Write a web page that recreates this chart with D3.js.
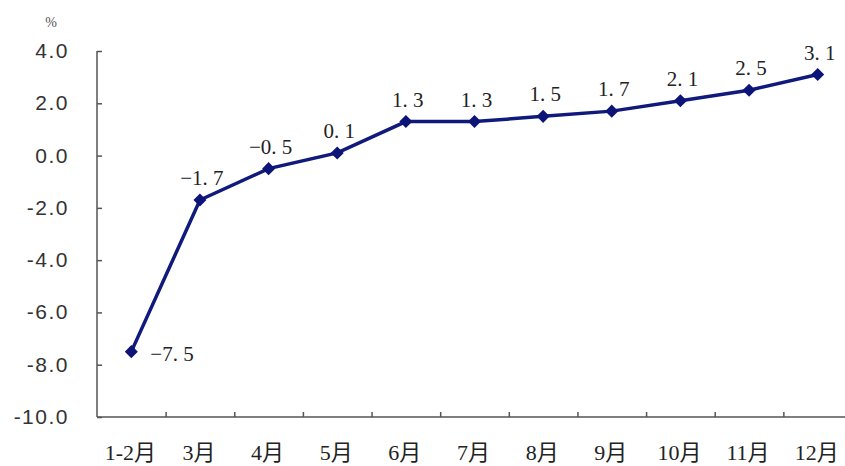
<!DOCTYPE html>
<html>
<head>
<meta charset="utf-8">
<script src="https://cdn.jsdelivr.net/npm/d3@7"></script>
<style>
    body { margin: 0; background: #fff; }
    svg { display: block; }
    .ylab { font-family: "Liberation Sans", Arial, sans-serif; font-size: 21px; letter-spacing: 1.5px; fill: #333; }
    .xlab { font-family: "Liberation Serif", "Noto Sans CJK SC", serif; font-size: 22px; fill: #222; }
    .dlab { font-family: "Liberation Serif", serif; font-size: 21px; fill: #222; }
</style>
</head>
<body>
<svg id="chart" width="845" height="466" viewBox="0 0 845 466"></svg>
<script>
const months = ["1-2月", "3月", "4月", "5月", "6月", "7月", "8月", "9月", "10月", "11月", "12月"];
const growth = [-7.5, -1.7, -0.5, 0.1, 1.3, 1.3, 1.5, 1.7, 2.1, 2.5, 3.1];
const y_ticks = [4, 2, 0, -2, -4, -6, -8, -10];

const svg = d3.select('#chart');
const plot_left = 97, plot_right = 852, plot_top = 51, plot_bottom = 417;

const x_scale = d3.scaleBand()
    .domain(months)
    .range([plot_left, plot_right]);

const y_scale = d3.scaleLinear()
    .domain([-10, 4])
    .range([plot_bottom, plot_top]);

// y axis
const y_axis = d3.axisRight(y_scale)
    .tickValues(y_ticks)
    .tickSize(5)
    .tickFormat("");
const gy = svg.append("g")
    .attr("transform", "translate(" + plot_left + ",0)")
    .call(y_axis);
gy.select(".domain").attr("stroke", "#555").attr("stroke-width", 1.5).attr("d", "M0," + plot_top + "V" + plot_bottom);
gy.selectAll(".tick line").attr("stroke", "#555").attr("stroke-width", 1.5);

svg.append("g")
    .selectAll("text")
    .data(y_ticks)
    .enter().append("text")
    .classed("ylab", true)
    .attr("x", 69)
    .attr("y", d => y_scale(d) + 7)
    .attr("text-anchor", "end")
    .text(d => d.toFixed(1));

svg.append("text")
    .attr("x", 51)
    .attr("y", 27)
    .attr("text-anchor", "middle")
    .style("font-family", "Liberation Serif, serif")
    .style("font-size", "14px")
    .style("fill", "#555")
    .text("%");

// x axis, ticks between categories pointing up
const x_axis = d3.axisTop(d3.scaleLinear().domain([0, months.length]).range([plot_left, plot_right]))
    .tickValues(d3.range(1, months.length))
    .tickSize(5)
    .tickFormat("");
const gx = svg.append("g")
    .attr("transform", "translate(0," + plot_bottom + ")")
    .call(x_axis);
gx.select(".domain").attr("stroke", "#555").attr("stroke-width", 1.5).attr("d", "M" + plot_left + ",0H" + plot_right);
gx.selectAll(".tick line").attr("stroke", "#555").attr("stroke-width", 1.5);

svg.append("g")
    .selectAll("text")
    .data(months)
    .enter().append("text")
    .classed("xlab", true)
    .attr("x", d => x_scale(d) + x_scale.bandwidth() / 2 - 1)
    .attr("y", 460)
    .attr("text-anchor", "middle")
    .text(d => d);

// line
const cx = (d, i) => x_scale(months[i]) + x_scale.bandwidth() / 2;
const line = d3.line()
    .x(cx)
    .y(d => y_scale(d));
svg.append("path")
    .datum(growth)
    .attr("fill", "none")
    .attr("stroke", "#101a7c")
    .attr("stroke-width", 3.5)
    .attr("d", line);

// diamond markers: rotated squares
svg.append("g")
    .selectAll("path")
    .data(growth)
    .enter().append("path")
    .attr("d", d3.symbol(d3.symbolSquare, 85))
    .attr("transform", (d, i) => "translate(" + cx(d, i) + "," + y_scale(d) + ") rotate(45)")
    .attr("fill", "#0c1478");

// data labels
const fmt = d => d.toFixed(1).replace("-", "\u2212").replace(".", ". ");
svg.append("g")
    .selectAll("text")
    .data(growth)
    .enter().append("text")
    .classed("dlab", true)
    .attr("x", (d, i) => i === 0 ? cx(d, i) + 19 : cx(d, i) + 2)
    .attr("y", (d, i) => i === 0 ? y_scale(d) + 9 : y_scale(d) - 15)
    .attr("text-anchor", (d, i) => i === 0 ? "start" : "middle")
    .text(fmt);
</script>
</body>
</html>
